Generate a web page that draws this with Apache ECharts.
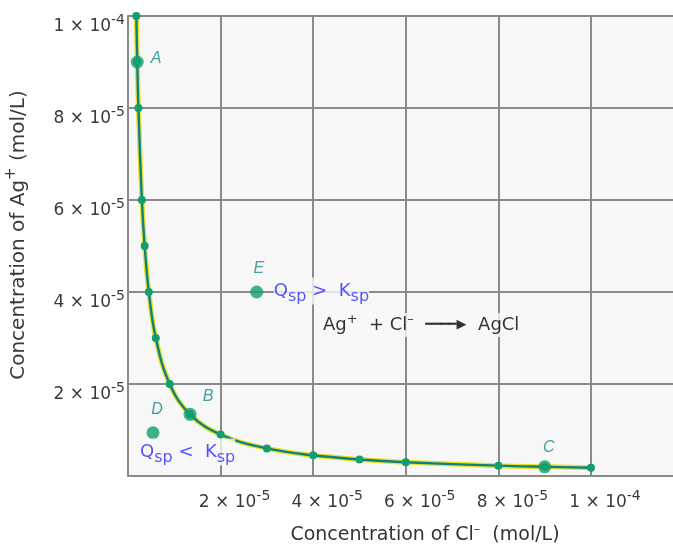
<!DOCTYPE html>
<html><head><meta charset="utf-8">
<script src="https://cdn.jsdelivr.net/npm/echarts@6/dist/echarts.min.js"></script>
<style>html,body{margin:0;padding:0;background:#fff}#c{width:673px;height:548px}</style>
</head><body><div id="c"></div>
<script>
// Solubility curve of AgCl (Ksp line): [Cl-] and [Ag+] in mol/L
const curveCl = [1.8e-6, 2e-6, 2.25e-6, 3e-6, 3.6e-6, 4.5e-6, 6e-6, 9e-6, 1.34e-5, 2e-5, 3e-5, 4e-5, 5e-5, 6e-5, 8e-5, 9e-5, 1e-4];
const curveAg = [1e-4, 9e-5, 8e-5, 6e-5, 5e-5, 4e-5, 3e-5, 2e-5, 1.34e-5, 9e-6, 6e-6, 4.5e-6, 3.6e-6, 3e-6, 2.25e-6, 2e-6, 1.8e-6];
// Marked points
const pointNames = ['A', 'B', 'C', 'D', 'E'];
const pointCl = [2e-6, 1.34e-5, 9e-5, 5.4e-6, 2.78e-5];
const pointAg = [9e-5, 1.34e-5, 2e-6, 9.4e-6, 4e-5];
// Tick labels
const tickValues = [2e-5, 4e-5, 6e-5, 8e-5, 1e-4];
const tickMantissa = ['2', '4', '6', '8', '1'];
const tickExponent = ['-5', '-5', '-5', '-5', '-4'];
// Notes (anchor = left middle of text, in data units)
const noteKeys = ['gt', 'lt', 'rx'];
const noteCl = [3.15e-5, 2.6e-6, 4.21e-5];
const noteAg = [4.02e-5, 5.2e-6, 3.28e-5];

const FONT = '"DejaVu Sans", Verdana, sans-serif';
const IFONT = '"Liberation Sans", Arial, sans-serif';
const BLUE = '#2b2bff';
const TEAL = '#16898a';
const DOT = '#129e6e';

function tickLabel(v) {
  for (let i = 0; i < tickValues.length; i++) {
    if (Math.abs(v - tickValues[i]) < 1e-9) return '{m|' + tickMantissa[i] + ' \u00d7 10}{e|' + tickExponent[i] + '}';
  }
  return '';
}
const tickRich = {
  m: { fontSize: 17, color: '#3a3a3a', fontFamily: FONT },
  e: { fontSize: 14, color: '#3a3a3a', fontFamily: FONT, padding: [0, 0, 14, 0] }
};

const notes = {
  gt: '{q|Q}{s|sp}{q| >  K}{s|sp}',
  lt: '{q|Q}{s|sp}{q| <  K}{s|sp}',
  rx: '{b|Ag}{p|+}{b|  + Cl}{p|\u2013}{b|  }{a|\u2501\u2501\u2501\u2501\u25B6}{b|  AgCl}'
};

const curveData = curveCl.map((x, i) => [x, curveAg[i]]);
const labelPos = {
  A: { position: 'right', distance: 7, offset: [0, -3] },
  B: { position: 'top', offset: [18, 2] },
  C: { position: 'top', offset: [4, 0] },
  D: { position: 'top', offset: [4, -4] },
  E: { position: 'top', offset: [2, -4] }
};
const pointData = pointNames.map((n, i) => ({ name: n, value: [pointCl[i], pointAg[i]], label: labelPos[n] }));
const noteData = noteKeys.map((k, i) => ({ name: k, value: [noteCl[i], noteAg[i]] }));

const chart = echarts.init(document.getElementById('c'), null, { renderer: 'canvas' });
chart.setOption({
  backgroundColor: '#ffffff',
  animation: false,
  grid: { left: 128, top: 16, right: -10, bottom: 72, outerBoundsMode: 'none', containLabel: false,
          show: true, backgroundColor: '#f7f7f7', borderWidth: 0 },
  xAxis: {
    type: 'value', min: 0, max: 1.1987e-4, interval: 2e-5,
    axisLine: { show: true, onZero: false, lineStyle: { color: '#8a8a8a', width: 2 } },
    axisTick: { show: false },
    splitLine: { show: true, lineStyle: { color: '#8a8a8a', width: 2 } },
    axisLabel: { formatter: tickLabel, rich: tickRich, margin: 13, padding: [0, 0, 0, 28] },
    name: '{t|Concentration of Cl}{p|\u2013}{t|  (mol/L)}',
    nameLocation: 'middle', nameGap: 47,
    nameTextStyle: {
      padding: [0, 0, 0, 39],
      rich: { t: { fontSize: 19, color: '#333', fontFamily: FONT }, p: { fontSize: 13, color: '#333', fontFamily: FONT, padding: [0, 0, 12, 0] } }
    }
  },
  yAxis: {
    type: 'value', min: 0, max: 1e-4, interval: 2e-5,
    axisLine: { show: true, onZero: false, lineStyle: { color: '#8a8a8a', width: 2 } },
    axisTick: { show: false },
    splitLine: { show: true, lineStyle: { color: '#8a8a8a', width: 2 } },
    axisLabel: { formatter: tickLabel, rich: tickRich, margin: 3, padding: [22, 0, 0, 0] },
    name: '{t|Concentration of Ag}{p|+}{t| (mol/L)}',
    nameLocation: 'middle', nameGap: 95,
    nameTextStyle: {
      padding: [0, 0, 0, 22],
      rich: { t: { fontSize: 20, color: '#3a3a3a', fontFamily: FONT }, p: { fontSize: 15, color: '#3a3a3a', fontFamily: FONT, padding: [0, 0, 14, 0] } }
    }
  },
  series: [
    {
      type: 'line', data: curveData, smooth: 0.4, symbol: 'none', z: 2,
      lineStyle: { color: '#e6e22a', width: 5 }
    },
    {
      type: 'line', data: curveData, smooth: 0.4, symbol: 'circle', symbolSize: 8, z: 3,
      lineStyle: { color: '#0f7f86', width: 2.4 },
      itemStyle: { color: DOT }
    },
    {
      type: 'scatter', data: pointData, symbolSize: 13, z: 4,
      itemStyle: { color: DOT },
      label: { show: true, formatter: '{b}', color: TEAL, fontSize: 16, fontStyle: 'italic', fontFamily: IFONT }
    },
    {
      type: 'scatter', data: noteData, symbolSize: 0, z: 5,
      label: {
        show: true, position: 'right', distance: 0, backgroundColor: '#f7f7f7',
        formatter: p => notes[p.name],
        rich: {
          q: { fontSize: 18, color: BLUE, fontFamily: FONT },
          s: { fontSize: 16, color: BLUE, fontFamily: FONT, padding: [11, 0, 0, 0] },
          b: { fontSize: 18, color: '#000', fontFamily: FONT },
          p: { fontSize: 13, color: '#000', fontFamily: FONT, padding: [0, 0, 11, 0] },
          a: { fontSize: 13, color: '#000', fontFamily: FONT }
        }
      }
    }
  ]
});
</script>
</body></html>
